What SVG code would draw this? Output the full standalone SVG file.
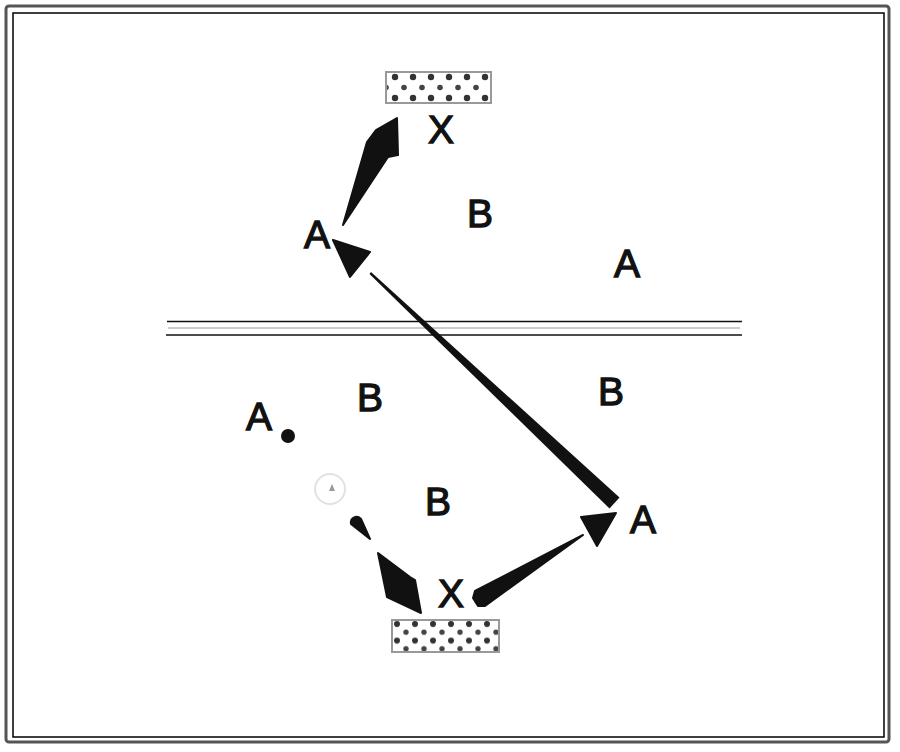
<svg xmlns="http://www.w3.org/2000/svg" width="900" height="752" viewBox="0 0 900 752">
<style>
.lbl{font-family:"Liberation Sans","DejaVu Sans",Arial,sans-serif;font-weight:normal;font-size:39px;fill:#111;stroke:#111;stroke-width:1.3;text-anchor:middle}
.arrow{fill:#111;stroke:#111;stroke-width:2;stroke-linejoin:round}
.shaft{fill:#111}
.box{stroke:#999;stroke-width:2}
.rule{stroke:#111;stroke-width:1.5}
</style>
<defs>
<pattern id="dotsTop" patternUnits="userSpaceOnUse" x="386" y="72" width="18" height="21">
<circle cx="9" cy="5" r="3.2" fill="#333"/>
<circle cx="0" cy="15.5" r="2.8" fill="#444"/>
<circle cx="18" cy="15.5" r="2.8" fill="#444"/>
</pattern>
<pattern id="dotsBot" patternUnits="userSpaceOnUse" x="388" y="620" width="18" height="16.6">
<circle cx="9" cy="4" r="3" fill="#333"/>
<circle cx="0" cy="12.3" r="2.7" fill="#444"/>
<circle cx="18" cy="12.3" r="2.7" fill="#444"/>
</pattern>
</defs>
<rect width="900" height="752" fill="#fff"/>
<g id="frame">
<rect x="6" y="6" width="883" height="736" rx="3" fill="none" stroke="#555" stroke-width="3"/>
<rect x="13" y="13" width="871" height="724" fill="none" stroke="#000" stroke-width="1.5"/>
</g>
<g id="divider">
<line class="rule" x1="167" y1="321.5" x2="742" y2="321.5"/>
<line x1="168" y1="328" x2="740" y2="328" stroke="#bbb" stroke-width="1.5"/>
<line class="rule" x1="166" y1="335" x2="742" y2="335"/>
</g>
<g id="connectors">
<polygon class="arrow" points="343,225 367,142 376,130 397,118 398,155 388,157"/>
<polygon class="arrow" points="333,240 370,252 350,277"/>
<polygon class="shaft" points="371,272 619.5,497.5 609.5,508.5 369.5,274"/>
<polygon class="arrow" points="581,517 616,513 597,546"/>
<polygon class="arrow" points="583,535 485,606 478,606 473,598 475,591"/>
<path class="arrow" d="M351,524 C350,517 357,515 361,519 L370,539 Z"/>
<polygon class="arrow" points="378,553 410,577 415,580 421,613 387,597"/>
</g>
<g id="box-top">
<rect class="box" x="386" y="72" width="105" height="31" fill="url(#dotsTop)"/>
</g>
<g id="box-bottom">
<rect class="box" x="392" y="620" width="107" height="32" fill="url(#dotsBot)"/>
</g>
<g id="x-top"><text class="lbl" x="441" y="143">X</text></g>
<g id="x-bottom"><text class="lbl" x="451" y="607">X</text></g>
<g id="b1"><text class="lbl" x="480" y="227">B</text></g>
<g id="a1"><text class="lbl" x="317" y="248">A</text></g>
<g id="a2"><text class="lbl" x="627" y="277">A</text></g>
<g id="b2"><text class="lbl" x="370" y="411">B</text></g>
<g id="b3"><text class="lbl" x="611" y="405">B</text></g>
<g id="a3"><text class="lbl" x="259" y="430">A</text></g>
<g id="b4"><text class="lbl" x="438" y="515">B</text></g>
<g id="a4"><text class="lbl" x="643" y="533">A</text></g>
<g id="dot"><circle cx="288" cy="436" r="7" fill="#111"/></g>
<g id="faint-mark">
<circle cx="330" cy="489" r="15" fill="none" stroke="#e2e2e2" stroke-width="2"/>
<polygon points="329,491 335,491 332,484" fill="#999"/>
</g>
</svg>
